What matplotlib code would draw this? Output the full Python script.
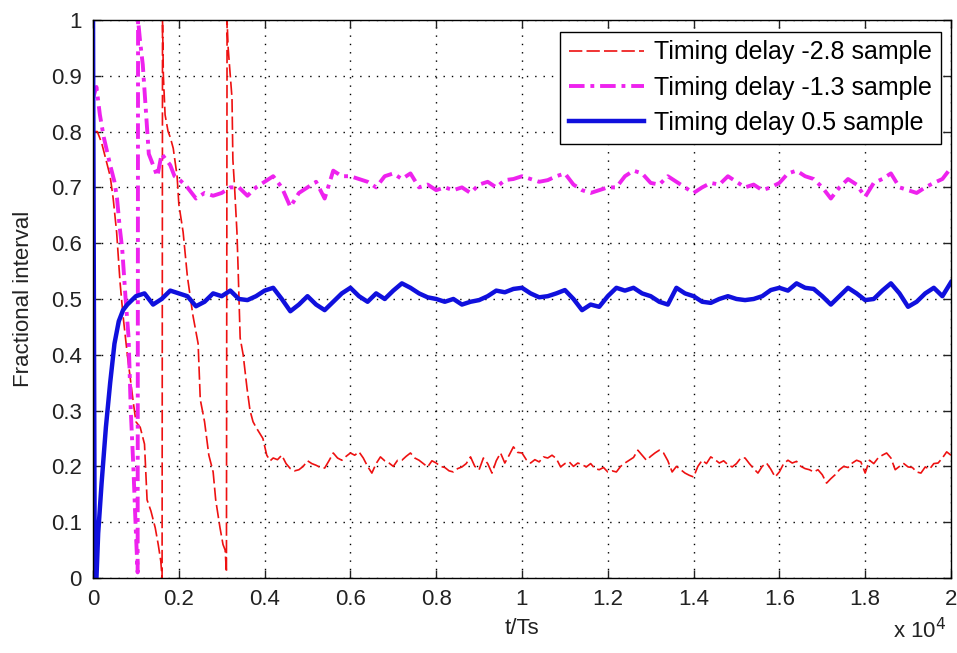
import numpy as np
import matplotlib
matplotlib.use("Agg")
import matplotlib.pyplot as plt
from matplotlib.ticker import FuncFormatter

plt.rcParams['font.family'] = ['Liberation Sans', 'DejaVu Sans']

# ── data (sample index t/Ts, fractional interval) ───────────────────────────
# transient parts read point by point, steady parts on a regular sample grid
red_tr_x = [0, 100, 200, 300, 400, 470, 550, 630, 700, 800, 930, 1000, 1100,
            1200, 1260, 1350, 1450, 1520, 1580, 1610,
            1620, 1640, 1680, 1750, 1800, 1870, 1960, 2000, 2100, 2200, 2330,
            2450, 2500, 2600, 2700, 2800, 2860, 2900, 2960, 3030, 3080, 3110,
            3125, 3150, 3200, 3240, 3260, 3300, 3355, 3380, 3430, 3500, 3590,
            3660, 3730, 3800, 3880, 3960, 4050, 4130]
red_tr_y = [0.80, 0.80, 0.78, 0.75, 0.72, 0.68, 0.62, 0.53, 0.47, 0.40, 0.32,
            0.28, 0.27, 0.24, 0.14, 0.12, 0.09, 0.06, 0.03, 0.0,
            1.0, 0.90, 0.83, 0.80, 0.79, 0.77, 0.72, 0.67, 0.62, 0.54, 0.47,
            0.42, 0.32, 0.28, 0.22, 0.19, 0.14, 0.12, 0.09, 0.06, 0.05, 0.01,
            1.0, 0.95, 0.90, 0.86, 0.75, 0.70, 0.62, 0.56, 0.43, 0.40, 0.34,
            0.30, 0.28, 0.27, 0.26, 0.25, 0.22, 0.21]
red_ss_start, red_ss_step = 4200, 100
red_ss = [0.215, 0.212, 0.22, 0.205, 0.196, 0.192, 0.194, 0.20, 0.21, 0.205,
          0.202, 0.198, 0.197, 0.21, 0.224, 0.215, 0.211, 0.218, 0.224, 0.22,
          0.226, 0.215, 0.20, 0.188, 0.205, 0.217, 0.21, 0.206, 0.20, 0.211,
          0.211, 0.218, 0.224, 0.215, 0.211, 0.205, 0.199, 0.21, 0.206, 0.20,
          0.198, 0.192, 0.19, 0.196, 0.199, 0.205, 0.217, 0.20, 0.194, 0.215,
          0.205, 0.188, 0.21, 0.224, 0.206, 0.22, 0.235, 0.225, 0.224, 0.212,
          0.206, 0.212, 0.208, 0.217, 0.215, 0.22, 0.214, 0.199, 0.205, 0.208,
          0.20, 0.206, 0.203, 0.199, 0.205, 0.196, 0.194, 0.198, 0.19, 0.192,
          0.19, 0.20, 0.206, 0.211, 0.216, 0.229, 0.22, 0.211, 0.218, 0.224,
          0.229, 0.224, 0.21, 0.19, 0.20, 0.194, 0.188, 0.184, 0.181, 0.20,
          0.211, 0.205, 0.217, 0.212, 0.206, 0.21, 0.203, 0.199, 0.205, 0.215,
          0.215, 0.205, 0.196, 0.188, 0.20, 0.206, 0.195, 0.181, 0.19, 0.205,
          0.211, 0.206, 0.209, 0.20, 0.196, 0.194, 0.19, 0.194, 0.185, 0.17,
          0.178, 0.185, 0.194, 0.20, 0.198, 0.206, 0.211, 0.208, 0.188, 0.211,
          0.205, 0.215, 0.22, 0.224, 0.215, 0.194, 0.20, 0.205, 0.199, 0.198,
          0.19, 0.188, 0.199, 0.195, 0.205, 0.206, 0.215, 0.226, 0.22]

mag_tr_x = [0, 80, 160, 250, 400, 500, 560, 620, 680, 760, 830, 880, 940,
            1000, 1040, 1050, 1100, 1160, 1230, 1300, 1400, 1500, 1600, 1700,
            1800, 1900, 2000]
mag_tr_y = [0.86, 0.88, 0.83, 0.79, 0.74, 0.71, 0.68, 0.63, 0.59, 0.50, 0.43,
            0.30, 0.20, 0.08, 0.01, 1.0, 0.96, 0.92, 0.84, 0.76, 0.74, 0.72,
            0.76, 0.75, 0.74, 0.72, 0.715]
mag_ss_start, mag_ss_step = 2200, 200
mag_ss = [0.70, 0.68, 0.69, 0.685, 0.69, 0.70, 0.70, 0.685, 0.70, 0.71,
          0.72, 0.70, 0.665, 0.69, 0.70, 0.71, 0.68, 0.73, 0.72, 0.72,
          0.715, 0.71, 0.70, 0.72, 0.725, 0.715, 0.725, 0.70, 0.705, 0.695,
          0.70, 0.695, 0.70, 0.69, 0.705, 0.71, 0.70, 0.713, 0.715, 0.72,
          0.715, 0.71, 0.713, 0.72, 0.725, 0.705, 0.695, 0.69, 0.695, 0.70,
          0.70, 0.72, 0.73, 0.725, 0.708, 0.705, 0.72, 0.71, 0.70, 0.69,
          0.70, 0.708, 0.705, 0.72, 0.71, 0.70, 0.705, 0.695, 0.70, 0.708,
          0.725, 0.73, 0.72, 0.715, 0.70, 0.68, 0.70, 0.715, 0.705, 0.683,
          0.708, 0.715, 0.725, 0.70, 0.695, 0.69, 0.70, 0.708, 0.715, 0.735]

blue_tr_x = [0, 40, 80, 120, 200, 300, 400, 500, 600, 700]
blue_tr_y = [1.0, 0.0, 0.0, 0.08, 0.17, 0.27, 0.35, 0.42, 0.46, 0.48]
blue_ss_start, blue_ss_step = 800, 200
blue_ss = [0.49, 0.505, 0.51, 0.49, 0.50, 0.515, 0.51, 0.505, 0.487, 0.495,
           0.51, 0.505, 0.515, 0.50, 0.498, 0.505, 0.515, 0.52, 0.50, 0.478,
           0.49, 0.505, 0.49, 0.48, 0.495, 0.51, 0.52, 0.505, 0.495, 0.51,
           0.50, 0.515, 0.528, 0.52, 0.51, 0.503, 0.50, 0.495, 0.50, 0.49,
           0.495, 0.498, 0.505, 0.515, 0.512, 0.518, 0.52, 0.51, 0.503, 0.505,
           0.51, 0.516, 0.50, 0.48, 0.49, 0.486, 0.505, 0.52, 0.515, 0.52,
           0.51, 0.505, 0.495, 0.49, 0.52, 0.51, 0.505, 0.495, 0.493, 0.50,
           0.505, 0.50, 0.498, 0.50, 0.505, 0.516, 0.52, 0.515, 0.528, 0.52,
           0.518, 0.505, 0.49, 0.505, 0.52, 0.51, 0.498, 0.50, 0.515, 0.528,
           0.51, 0.486, 0.495, 0.51, 0.52, 0.505, 0.53]

labels = ["Timing delay -2.8 sample", "Timing delay -1.3 sample",
          "Timing delay 0.5 sample"]


def series(tr_x, tr_y, start, step, ss):
    x = list(tr_x) + [start + i * step for i in range(len(ss))]
    y = list(tr_y) + list(ss)
    return np.array(x), np.array(y)


fig = plt.figure(figsize=(9.57, 6.53), dpi=100)
ax = fig.add_axes([0.0972, 0.1149, 0.8965, 0.8545])

x, y = series(red_tr_x, red_tr_y, red_ss_start, red_ss_step, red_ss)
ax.plot(x, y, color="#ee1111", lw=1.2, linestyle=(0, (8, 2.5)), label=labels[0])
x, y = series(mag_tr_x, mag_tr_y, mag_ss_start, mag_ss_step, mag_ss)
ax.plot(x, y, color="#ee22ee", lw=2.8, linestyle=(0, (4, 1.5, 1, 1.5)),
        label=labels[1])
x, y = series(blue_tr_x, blue_tr_y, blue_ss_start, blue_ss_step, blue_ss)
ax.plot(x, y, color="#1010dd", lw=3.2, label=labels[2])

ax.set_xlim(0, 20000)
ax.set_ylim(0, 1)
ax.set_xticks(np.arange(0, 20001, 2000))
ax.xaxis.set_major_formatter(FuncFormatter(lambda v, p: f"{v / 1e4:g}"))
ax.set_yticks(np.arange(0, 1.01, 0.1))
ax.yaxis.set_major_formatter(FuncFormatter(lambda v, p: f"{v:g}"))
ax.tick_params(direction="in", top=True, right=True, length=6, width=1,
               labelsize=16, colors="#222222", pad=8)
ax.grid(True, color="black", linestyle=(0, (1, 5)), lw=1.0)
for s in ax.spines.values():
    s.set_linewidth(1.0)

ax.set_xlabel("t/Ts", fontsize=16, color="#222222", labelpad=6)
ax.set_ylabel("Fractional interval", fontsize=16, color="#222222", labelpad=12)
fig.text(0.933, 0.022, r"x 10$^4$", fontsize=16, color="#222222")

leg = ax.legend(loc="upper right", bbox_to_anchor=(0.988, 0.979),
                borderaxespad=0, fontsize=18, fancybox=False, framealpha=1,
                edgecolor="black", handlelength=3.0, handletextpad=0.4,
                labelspacing=0.45, borderpad=0.35)
leg.get_frame().set_linewidth(1.0)

fig.savefig("out.png", dpi=100)
